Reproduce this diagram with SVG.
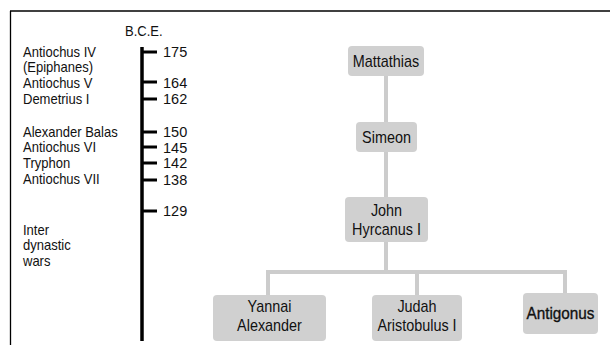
<svg xmlns="http://www.w3.org/2000/svg" width="610" height="345" viewBox="0 0 610 345">
<style>
text{font-family:"Liberation Sans",Arial,sans-serif;fill:#111}
.lab{font-size:14px}
.num{font-size:14.5px}
.nt{font-size:16px;text-anchor:middle}
.box{fill:#d0d0d0}
.con{stroke:#cccccc;stroke-width:4;fill:none}
.tick{stroke:#000;stroke-width:3}
</style>
<rect width="610" height="345" fill="#fff"/>
<g id="frame">
<line x1="10" y1="11" x2="610" y2="11" stroke="#000" stroke-width="1.3"/>
<line x1="10.5" y1="11" x2="10.5" y2="345" stroke="#000" stroke-width="1.3"/>
</g>
<g id="timeline">
<text class="lab" transform="translate(125,36) scale(0.93,1)">B.C.E.</text>
<line x1="142" y1="47" x2="142" y2="341" stroke="#000" stroke-width="3.5"/>
<line class="tick" x1="142" y1="52" x2="157" y2="52"/>
<line class="tick" x1="142" y1="82" x2="157" y2="82"/>
<line class="tick" x1="142" y1="99" x2="157" y2="99"/>
<line class="tick" x1="142" y1="132" x2="157" y2="132"/>
<line class="tick" x1="142" y1="147" x2="157" y2="147"/>
<line class="tick" x1="142" y1="163" x2="157" y2="163"/>
<line class="tick" x1="142" y1="180" x2="157" y2="180"/>
<line class="tick" x1="142" y1="211" x2="157" y2="211"/>
<text class="num" x="163" y="57">175</text>
<text class="num" x="163" y="88">164</text>
<text class="num" x="163" y="104">162</text>
<text class="num" x="163" y="137">150</text>
<text class="num" x="163" y="152.5">145</text>
<text class="num" x="163" y="168">142</text>
<text class="num" x="163" y="185">138</text>
<text class="num" x="163" y="216">129</text>
</g>
<g id="rulers" transform="translate(1.61,0) scale(0.93,1)">
<text class="lab" x="23" y="57">Antiochus IV</text>
<text class="lab" x="23" y="72.5">(Epiphanes)</text>
<text class="lab" x="23" y="88">Antiochus V</text>
<text class="lab" x="23" y="104">Demetrius I</text>
<text class="lab" x="23" y="137">Alexander Balas</text>
<text class="lab" x="23" y="152">Antiochus VI</text>
<text class="lab" x="23" y="168">Tryphon</text>
<text class="lab" x="23" y="184">Antiochus VII</text>
<text class="lab" x="23" y="235">Inter</text>
<text class="lab" x="23" y="250.5">dynastic</text>
<text class="lab" x="23" y="266">wars</text>
</g>
<g id="connectors">
<line class="con" x1="386" y1="76" x2="386" y2="122"/>
<line class="con" x1="386" y1="152" x2="386" y2="197"/>
<line class="con" x1="386" y1="242" x2="386" y2="272"/>
<polyline class="con" points="268,295 268,272 565,272 565,293"/>
<line class="con" x1="417" y1="272" x2="417" y2="295"/>
</g>
<g id="mattathias">
<rect class="box" x="348" y="46" width="76" height="30" rx="4"/>
<text class="nt" transform="translate(386,67) scale(0.9,1)">Mattathias</text>
</g>
<g id="simeon">
<rect class="box" x="356" y="122" width="61" height="30" rx="4"/>
<text class="nt" transform="translate(386.5,143) scale(0.9,1)">Simeon</text>
</g>
<g id="john-hyrcanus">
<rect class="box" x="345" y="197" width="83" height="45" rx="4"/>
<text class="nt" transform="translate(386.5,216) scale(0.9,1)">John</text>
<text class="nt" transform="translate(386.5,235) scale(0.9,1)">Hyrcanus I</text>
</g>
<g id="yannai">
<rect class="box" x="213" y="295" width="113" height="46" rx="4"/>
<text class="nt" transform="translate(269.5,312) scale(0.9,1)">Yannai</text>
<text class="nt" transform="translate(269.5,331) scale(0.9,1)">Alexander</text>
</g>
<g id="judah">
<rect class="box" x="372" y="295" width="90" height="46" rx="4"/>
<text class="nt" transform="translate(417,312) scale(0.9,1)">Judah</text>
<text class="nt" transform="translate(417,331) scale(0.9,1)">Aristobulus I</text>
</g>
<g id="antigonus">
<rect class="box" x="523" y="293" width="75" height="41" rx="4"/>
<text class="nt" transform="translate(560.5,319) scale(0.9,1)" style="font-size:17px;stroke:#111;stroke-width:0.35">Antigonus</text>
</g>
</svg>
